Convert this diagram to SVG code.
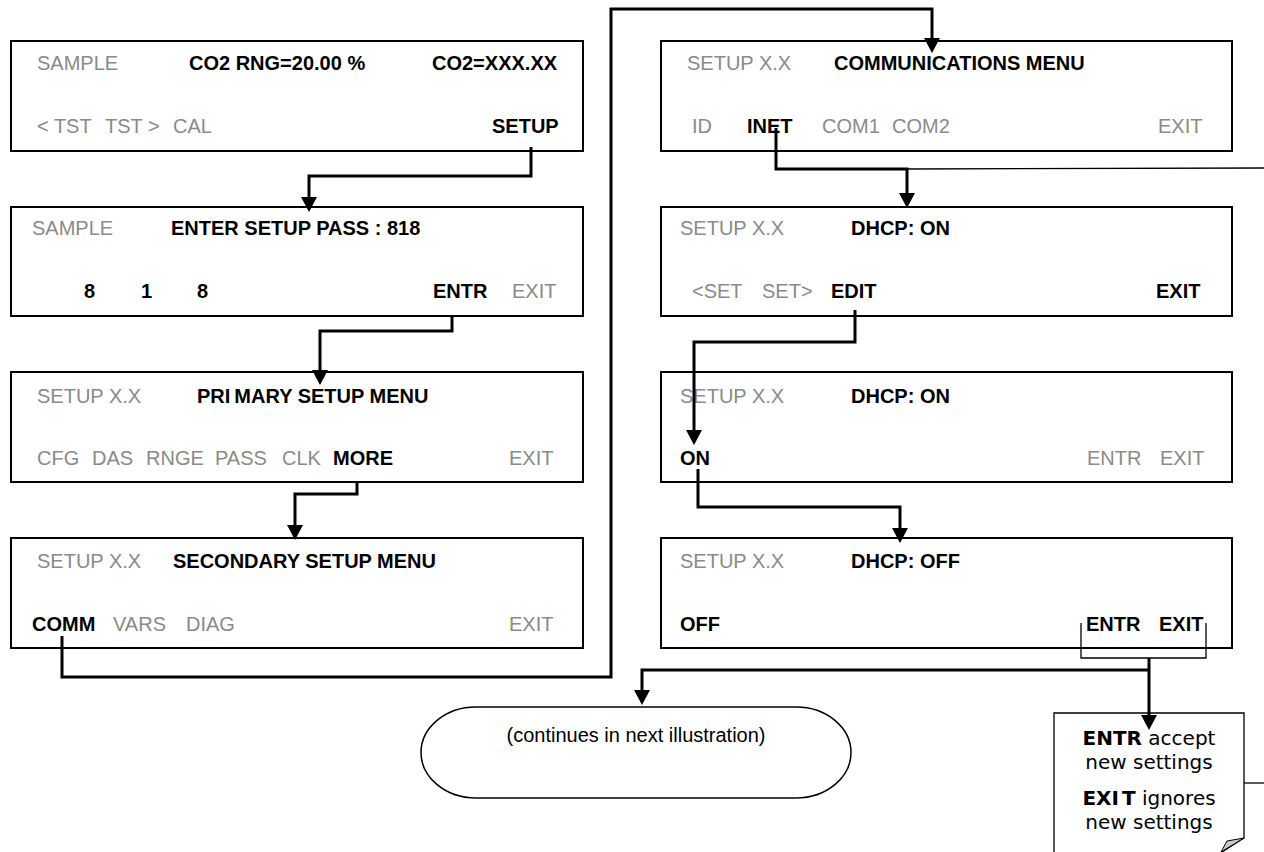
<svg xmlns="http://www.w3.org/2000/svg" width="1264" height="852" viewBox="0 0 1264 852">
<style>
.box{fill:#fff;stroke:#000;stroke-width:2}
.t{font-family:"Liberation Sans",Arial,sans-serif;font-size:20px}
.g{fill:#8a8a8a}
.b{font-weight:bold;fill:#000}
.c{fill:none;stroke:#000;stroke-width:3;marker-end:url(#ah)}
.thin{fill:none;stroke:#000;stroke-width:1.3}
.n{font-family:"DejaVu Sans",Verdana,sans-serif;font-size:20px;fill:#000;text-anchor:middle}
</style>
<defs>
<marker id="ah" viewBox="0 0 15 16" markerWidth="15" markerHeight="16" refX="5" refY="8" orient="auto" markerUnits="userSpaceOnUse">
<path d="M0 0 L15 8 L0 16 z" fill="#000"/>
</marker>
</defs>
<rect width="1264" height="852" fill="#fff"/>

<g id="sample">
<rect class="box" x="11" y="41" width="572" height="110"/>
<text class="t g" x="37" y="70">SAMPLE</text>
<text class="t b" x="189" y="70">CO2 RNG=20.00 %</text>
<text class="t b" x="432" y="70">CO2=XXX.XX</text>
<text class="t g" x="37" y="133">&lt; TST</text>
<text class="t g" x="105" y="133">TST &gt;</text>
<text class="t g" x="173" y="133">CAL</text>
<text class="t b" x="492" y="133">SETUP</text>
</g>

<g id="password">
<rect class="box" x="11" y="207" width="572" height="109"/>
<text class="t g" x="32" y="235">SAMPLE</text>
<text class="t b" x="171" y="235">ENTER SETUP PASS : 818</text>
<text class="t b" x="84" y="298">8</text>
<text class="t b" x="141" y="298">1</text>
<text class="t b" x="197" y="298">8</text>
<text class="t b" x="433" y="298">ENTR</text>
<text class="t g" x="512" y="298">EXIT</text>
</g>

<g id="primary">
<rect class="box" x="11" y="372" width="572" height="110"/>
<text class="t g" x="37" y="403">SETUP X.X</text>
<text class="t b" x="197" y="403"><tspan>PRI</tspan><tspan dx="4">MARY SETUP MENU</tspan></text>
<text class="t g" x="37" y="465">CFG</text>
<text class="t g" x="92" y="465">DAS</text>
<text class="t g" x="146" y="465">RNGE</text>
<text class="t g" x="215" y="465">PASS</text>
<text class="t g" x="282" y="465">CLK</text>
<text class="t b" x="333" y="465">MORE</text>
<text class="t g" x="509" y="465">EXIT</text>
</g>

<g id="secondary">
<rect class="box" x="11" y="538" width="572" height="110"/>
<text class="t g" x="37" y="568">SETUP X.X</text>
<text class="t b" x="173" y="568">SECONDARY SETUP MENU</text>
<text class="t b" x="32" y="631">COMM</text>
<text class="t g" x="113" y="631">VARS</text>
<text class="t g" x="186" y="631">DIAG</text>
<text class="t g" x="509" y="631">EXIT</text>
</g>

<g id="comm">
<rect class="box" x="661" y="41" width="571" height="110"/>
<text class="t g" x="687" y="70">SETUP X.X</text>
<text class="t b" x="834" y="70">COMMUNICATIONS MENU</text>
<text class="t g" x="692" y="133">ID</text>
<text class="t b" x="747" y="133">INET</text>
<text class="t g" x="822" y="133">COM1</text>
<text class="t g" x="892" y="133">COM2</text>
<text class="t g" x="1158" y="133">EXIT</text>
</g>

<g id="dhcp1">
<rect class="box" x="661" y="207" width="571" height="109"/>
<text class="t g" x="680" y="235">SETUP X.X</text>
<text class="t b" x="851" y="235">DHCP: ON</text>
<text class="t g" x="692" y="298">&lt;SET</text>
<text class="t g" x="762" y="298">SET&gt;</text>
<text class="t b" x="831" y="298">EDIT</text>
<text class="t b" x="1156" y="298">EXIT</text>
</g>

<g id="dhcp2">
<rect class="box" x="661" y="372" width="571" height="110"/>
<text class="t g" x="680" y="403">SETUP X.X</text>
<text class="t b" x="851" y="403">DHCP: ON</text>
<text class="t b" x="680" y="465">ON</text>
<text class="t g" x="1087" y="465">ENTR</text>
<text class="t g" x="1160" y="465">EXIT</text>
</g>

<g id="dhcp3">
<rect class="box" x="661" y="538" width="571" height="110"/>
<text class="t g" x="680" y="568">SETUP X.X</text>
<text class="t b" x="851" y="568">DHCP: OFF</text>
<text class="t b" x="680" y="631">OFF</text>
<text class="t b" x="1086" y="631">ENTR</text>
<text class="t b" x="1159" y="631">EXIT</text>
</g>

<g id="continues">
<rect x="421" y="707" width="430" height="91" rx="55" ry="45.5" fill="#fff" stroke="#000" stroke-width="1.5"/>
<text class="t" x="636" y="742" text-anchor="middle" fill="#000">(continues in next illustration)</text>
</g>

<g id="note">
<path d="M1054 852 V713 H1244 V838 L1222 852" fill="#fff" stroke="#000" stroke-width="1.3"/>
<path d="M1244 838 L1227 841 L1221 852 Z" fill="#c8c8c8" stroke="#000" stroke-width="1"/>
<text class="n" x="1149" y="745"><tspan font-weight="bold">ENTR</tspan> accept</text>
<text class="n" x="1149" y="769">new settings</text>
<text class="n" x="1149" y="805"><tspan font-weight="bold">EXI</tspan><tspan font-weight="bold" dx="3">T</tspan> ignores</text>
<text class="n" x="1149" y="829">new settings</text>
</g>

<g id="connectors">
<path class="c" d="M531 147 V176 H309 V202"/>
<path class="c" d="M452 316 V331 H320 V375"/>
<path class="c" d="M357 482 V494 H295 V530"/>
<path class="c" d="M62 636 V677 H611 V9 H932 V43"/>
<path class="c" d="M776 128 V169 H907 V198"/>
<path class="thin" d="M907 169 L1264 168"/>
<path class="c" d="M855 310 V342 H694 V435"/>
<path class="c" d="M698 469 V507 H900 V533"/>
<path class="thin" d="M1081 623 V658 H1206 V623"/>
<path class="c" d="M1149 658 V720"/>
<path class="c" d="M1149 670 H642 V695"/>
<path class="thin" d="M1244 783 H1264"/>
</g>
</svg>
